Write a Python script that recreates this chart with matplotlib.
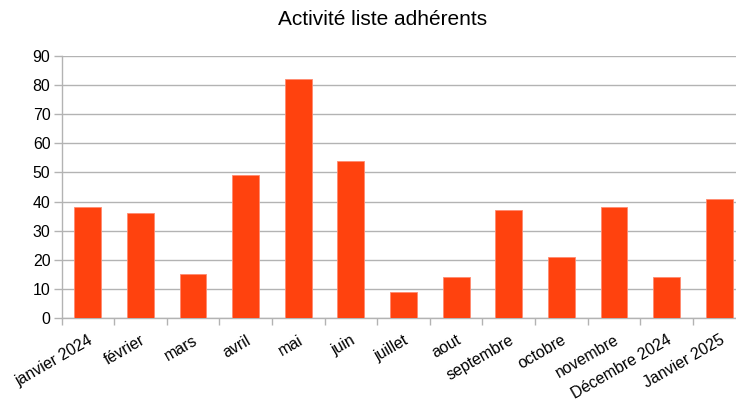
import matplotlib
matplotlib.use('Agg')
import matplotlib.pyplot as plt
import numpy as np

plt.rcParams['font.family'] = ['Liberation Sans', 'DejaVu Sans']

# Data
mois = ['janvier 2024', 'février', 'mars', 'avril', 'mai', 'juin', 'juillet',
        'aout', 'septembre', 'octobre', 'novembre', 'Décembre 2024', 'Janvier 2025']
activite = [38, 36, 15, 49, 82, 54, 9, 14, 37, 21, 38, 14, 41]

fig = plt.figure(figsize=(7.36, 4.07), dpi=100)
ax = fig.add_axes([61.5 / 736, 1 - 318 / 407, 684 / 736, (318 - 56) / 407])

x = np.arange(len(mois))
ax.bar(x, activite, width=0.51, color='#ff420e', edgecolor='#ff8a70', linewidth=0.6, zorder=3)

ax.set_xlim(-0.5, len(mois) - 0.5)
ax.set_ylim(0, 90)
ax.set_yticks(range(0, 91, 10))
ax.yaxis.grid(True, color='#b3b3b3', linewidth=1, zorder=0)

# ticks at category boundaries, labels at centres
ax.set_xticks(np.arange(-0.5, len(mois), 1.0))
ax.set_xticklabels([])
ax.set_xticks(x, minor=True)
ax.set_xticklabels(mois, minor=True, rotation=30, ha='right', rotation_mode='anchor', fontsize=11.4)
ax.tick_params(axis='x', which='minor', length=0, pad=10.5)
ax.tick_params(axis='x', which='major', length=5, color='#b3b3b3', width=1)
ax.tick_params(axis='y', length=6, color='#b3b3b3', width=1, labelsize=11.4, pad=2)

for s in ['top', 'right']:
    ax.spines[s].set_visible(False)
for s in ['left', 'bottom']:
    ax.spines[s].set_color('#b3b3b3')
    ax.spines[s].set_linewidth(1)

fig.text(382.5 / 736, 1 - 19.5 / 407, 'Activité liste adhérents', ha='center', va='center', fontsize=15)

fig.savefig('out.png', dpi=100)
